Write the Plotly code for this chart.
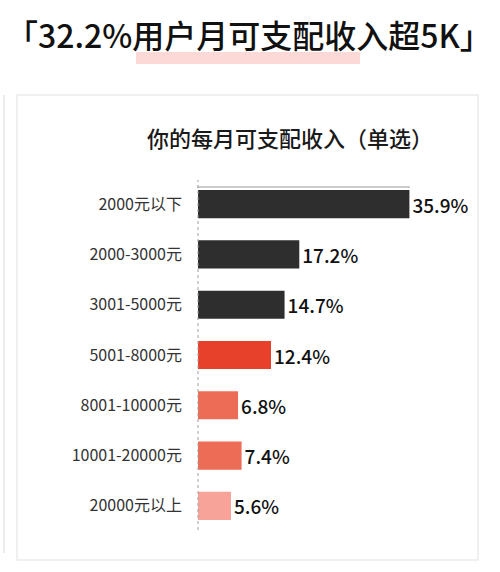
import plotly.graph_objects as go

categories = ["2000元以下", "2000-3000元", "3001-5000元", "5001-8000元",
              "8001-10000元", "10001-20000元", "20000元以上"]
values = [35.9, 17.2, 14.7, 12.4, 6.8, 7.4, 5.6]
labels = ["35.9%", "17.2%", "14.7%", "12.4%", "6.8%", "7.4%", "5.6%"]
colors = ["#2e2e2e", "#2e2e2e", "#2e2e2e", "#e8412b", "#ec6c56", "#ec6c56", "#f7a39a"]

title_text = "「32.2%用户月可支配收入超5K」"
subtitle_text = "你的每月可支配收入（单选）"

W, H = 500, 572
FONT = "Noto Sans CJK SC"

def px(x):
    return x / W

def py(y):
    return 1 - y / H

fig = go.Figure()
fig.add_trace(go.Bar(
    y=categories, x=values, orientation="h",
    marker=dict(color=colors, line=dict(width=0)),
    text=labels, textposition="outside", cliponaxis=False,
    textfont=dict(family=FONT, size=19, color="#111111", weight=500),
    width=0.56,
))

fig.update_layout(
    width=W, height=H,
    margin=dict(l=0, r=0, t=0, b=0),
    paper_bgcolor="white", plot_bgcolor="white",
    showlegend=False,
    font=dict(family=FONT),
    xaxis=dict(domain=[px(198), px(463)], range=[0, 45], visible=False, fixedrange=True),
    yaxis=dict(domain=[py(531), py(179)], autorange="reversed", showgrid=False,
               showline=False, zeroline=False, ticks="",
               ticklabelstandoff=15,
               tickfont=dict(family=FONT, size=16, color="#333333")),
    shapes=[
        dict(type="rect", xref="paper", yref="paper", x0=px(136), x1=px(360),
             y0=py(64), y1=py(52), fillcolor="#fcd8d6", line=dict(width=0), layer="below"),
        dict(type="rect", xref="paper", yref="paper", x0=px(17), x1=px(478),
             y0=py(560), y1=py(95), fillcolor="rgba(0,0,0,0)",
             line=dict(color="#ececec", width=1.5), layer="below"),
        dict(type="line", xref="paper", yref="paper", x0=px(4), x1=px(4),
             y0=py(553), y1=py(95), line=dict(color="#e4e4e4", width=1.5)),
        dict(type="line", xref="paper", yref="paper", x0=px(197), x1=px(410),
             y0=py(187), y1=py(187), line=dict(color="#9a9a9a", width=1)),
        dict(type="line", xref="paper", yref="paper", x0=px(198), x1=px(198),
             y0=py(530), y1=py(180), line=dict(color="#a0a0a0", width=1, dash="dot")),
    ],
    annotations=[
        dict(text=title_text, xref="paper", yref="paper", x=px(249), y=py(34),
             xanchor="center", yanchor="middle", showarrow=False,
             font=dict(family=FONT, size=32, color="#111111", weight=500)),
        dict(text=subtitle_text, xref="paper", yref="paper", x=px(290), y=py(137),
             xanchor="center", yanchor="middle", showarrow=False,
             font=dict(family=FONT, size=22, color="#1a1a1a", weight=500)),
    ],
)

fig.write_html("out.html")
